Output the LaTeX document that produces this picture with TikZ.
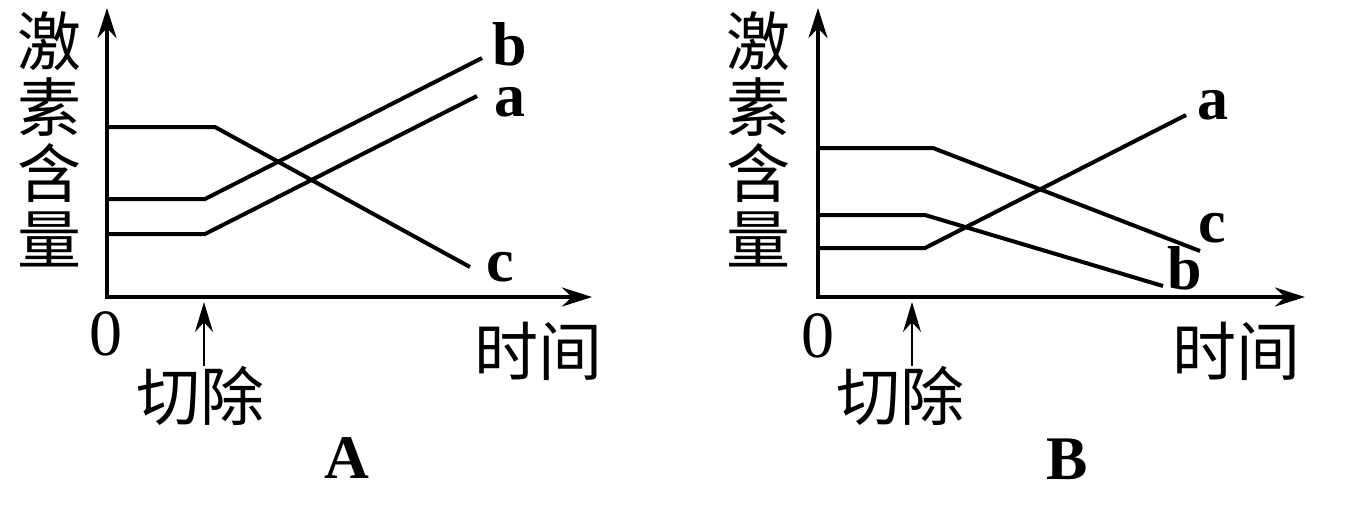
\documentclass[tikz,border=0pt]{standalone}
\usepackage{fontspec}
\setmainfont{Liberation Serif}
\newfontfamily\cjk{Noto Sans CJK SC}
\usetikzlibrary{arrows.meta}

\begin{document}
\begin{tikzpicture}
    [x=0.5pt, y=-0.5pt,
    axis/.style={line width=2pt, {Stealth[length=15pt, width=9.5pt]}-{Stealth[length=15pt, width=9.5pt]}},
    curve/.style={line width=2pt},
    cut/.style={line width=1pt, -{Stealth[length=15pt, width=9pt]}},
    han/.style={font=\cjk\fontsize{32pt}{33pt}\selectfont, inner sep=0pt, align=center},
    letter/.style={font=\fontsize{31pt}{31pt}\selectfont\bfseries, inner sep=0pt},
    digit/.style={font=\fontsize{33pt}{33pt}\selectfont, inner sep=0pt}]
    \useasboundingbox (0,0) rectangle (1354,516);
    % panel A
    \coordinate (oA) at (107,297);
    \coordinate (yA) at (107,8);
    \coordinate (xA) at (592,297);
    \coordinate (tipA) at (204,302);
    \draw[axis] (yA) -- (oA) -- (xA);
    \draw[curve] (oA |- 0,127) -- (215,127) -- (470,267);
    \draw[curve] (oA |- 0,199) -- (205,199) -- (482,58);
    \draw[curve] (oA |- 0,234) -- (205,234) -- (477,96);
    \node[han] (yLabA) at (50,139) {激\\素\\含\\量};
    \node[digit] (zeroA) at (106,334) {0};
    \node[han] (cutA) at (200,396) {切除};
    \node[han] (timeA) at (538,351) {时间};
    \node[letter] (bA) at (510,44) {b};
    \node[letter] (aA) at (510,102) {a};
    \node[letter] (cA) at (500,267) {c};
    \node[letter] (titleA) at (347,458) {A};
    \draw[cut] (cutA.north -| tipA) -- (tipA);
    %
    % panel B
    \coordinate (oB) at (818,297);
    \coordinate (yB) at (818,8);
    \coordinate (xB) at (1305,297);
    \coordinate (tipB) at (912,302);
    \draw[axis] (yB) -- (oB) -- (xB);
    \draw[curve] (oB |- 0,148) -- (933,148) -- (1200,251);
    \draw[curve] (oB |- 0,215) -- (925,215) -- (1163,286);
    \draw[curve] (oB |- 0,248) -- (925,248) -- (1186,115);
    \node[han] (yLabB) at (758,139) {激\\素\\含\\量};
    \node[digit] (zeroB) at (818,336) {0};
    \node[han] (cutB) at (900,396) {切除};
    \node[han] (timeB) at (1236,351) {时间};
    \node[letter] (aB) at (1213,105) {a};
    \node[letter] (cB) at (1212,228) {c};
    \node[letter] (bB) at (1185,268) {b};
    \node[letter] (titleB) at (1067,459) {B};
    \draw[cut] (cutB.north -| tipB) -- (tipB);
\end{tikzpicture}
\end{document}
